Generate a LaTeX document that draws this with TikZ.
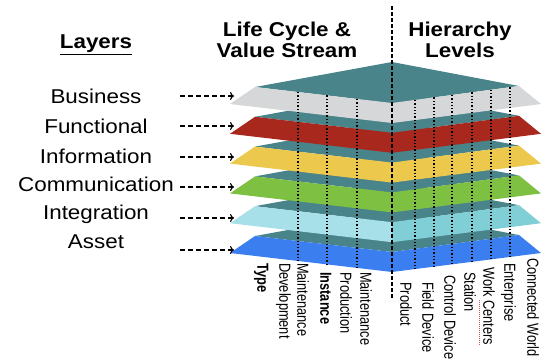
\documentclass[tikz,border=0pt]{standalone}
\usepackage{fontspec}
\setmainfont{Liberation Sans}
\newfontfamily\widefont{Liberation Sans}[FakeStretch=1.12]
\newfontfamily\narrowfont{Liberation Sans}[FakeStretch=0.8]
\usetikzlibrary{arrows.meta}
\definecolor{cTeal}{RGB}{74,132,139}
\definecolor{cGrey}{RGB}{214,215,217}
\definecolor{cRed}{RGB}{168,40,30}
\definecolor{cYellow}{RGB}{236,200,76}
\definecolor{cGreen}{RGB}{126,192,66}
\definecolor{cCyanL}{RGB}{168,224,233}
\definecolor{cCyanR}{RGB}{128,206,214}
\definecolor{cBlue}{RGB}{58,126,240}
\definecolor{cSpell}{RGB}{220,80,80}
\tikzset{
  layername/.style={font=\widefont\fontsize{20}{22}\selectfont, inner sep=0pt, anchor=center},
  titletext/.style={font=\widefont\bfseries\fontsize{20}{21}\selectfont, align=center, inner sep=0pt},
  layerarrow/.style={line width=1.2pt, dash pattern=on 4.5pt off 3.5pt, -{To[length=4pt,width=8pt]}},
  gridline/.style={line width=1.3pt, dotted},
  axisline/.style={line width=2.2pt, dash pattern=on 3.5pt off 2.5pt},
  rotlabel/.style={rotate=-90, anchor=west, inner sep=0pt, font=\narrowfont\fontsize{16}{17}\selectfont, text height=0.72em, text depth=0.2em}
}
\begin{document}
\begin{tikzpicture}[x=1pt,y=-1pt]
\useasboundingbox (0,0) rectangle (541,360);
% layers, from bottom to top
\foreach \i/\cl/\cr in {5/cBlue/cBlue, 4/cCyanL/cCyanR, 3/cGreen/cGreen, 2/cYellow/cYellow, 1/cRed/cRed, 0/cGrey/cGrey}{
  \pgfmathsetmacro\T{104+29.8*\i}
  \fill[cTeal] (255,\T-17) -- (392,\T-42) -- (519,\T-18) -- (392,\T-1) -- cycle;
  \fill[\cl] (255,\T-17) -- (392,\T-1) -- (392,\T+19) -- (230,\T) -- cycle;
  \fill[\cr] (519,\T-18) -- (392,\T-1) -- (392,\T+19) -- (541,\T) -- cycle;
}
% dotted grid lines
\foreach \x in {298,327,357}{
  \draw[gridline] (\x,{87+(\x-255)*16/137}) -- (\x,{253+(\x-230)*19/162});
}
\foreach \x in {415,434,452,472,491,510}{
  \draw[gridline] (\x,{103-(\x-392)*17/127}) -- (\x,{272-(\x-392)*19/149});
}
% central axis
\coordinate (axtop) at (392,6);
\coordinate (axbot) at (392,298);
\draw[axisline] (axtop) -- (axbot);
% titles
\node[font=\widefont\bfseries\fontsize{20}{22}\selectfont, inner sep=0pt] (layers) at (96,45) {\underline{Layers}};
\node[titletext] (lcvs) at (287,40) {Life Cycle \&\\Value Stream};
\node[titletext] (hl) at (460,40) {Hierarchy\\Levels};
% layer names and arrows
\foreach \i/\name/\ny/\ay in {0/Business/96/96, 1/Functional/126/126, 2/Information/156/157, 3/Communication/184/187, 4/Integration/214/218, 5/Asset/242/250}{
  \node[layername] (n\i) at (96,\ny) {\name};
  \coordinate (as\i) at (180,\ay);
  \coordinate (ae\i) at (234,\ay);
  \draw[layerarrow] (as\i) -- (ae\i);
}
% bottom labels
\foreach \x/\y/\t in {260/263/{\bfseries Type}, 282/263/Development, 300/263/Maintenance,
  323/272/{\bfseries Instance}, 343/272/Production, 363/272/Maintenance,
  403/282/Product, 425/282/Field Device, 447/275/Control Device, 467/272/Station,
  486/267/Work Centers, 507/263/Enterprise, 530/258/Connected World}{
  \node[rotlabel] (b\x) at (\x,\y) {\t};
}
% spell-check underline under "Centers"
\draw[cSpell, line width=0.6pt, dash pattern=on 1pt off 1pt] (479.5,300) -- (479.5,346);
\end{tikzpicture}
\end{document}
